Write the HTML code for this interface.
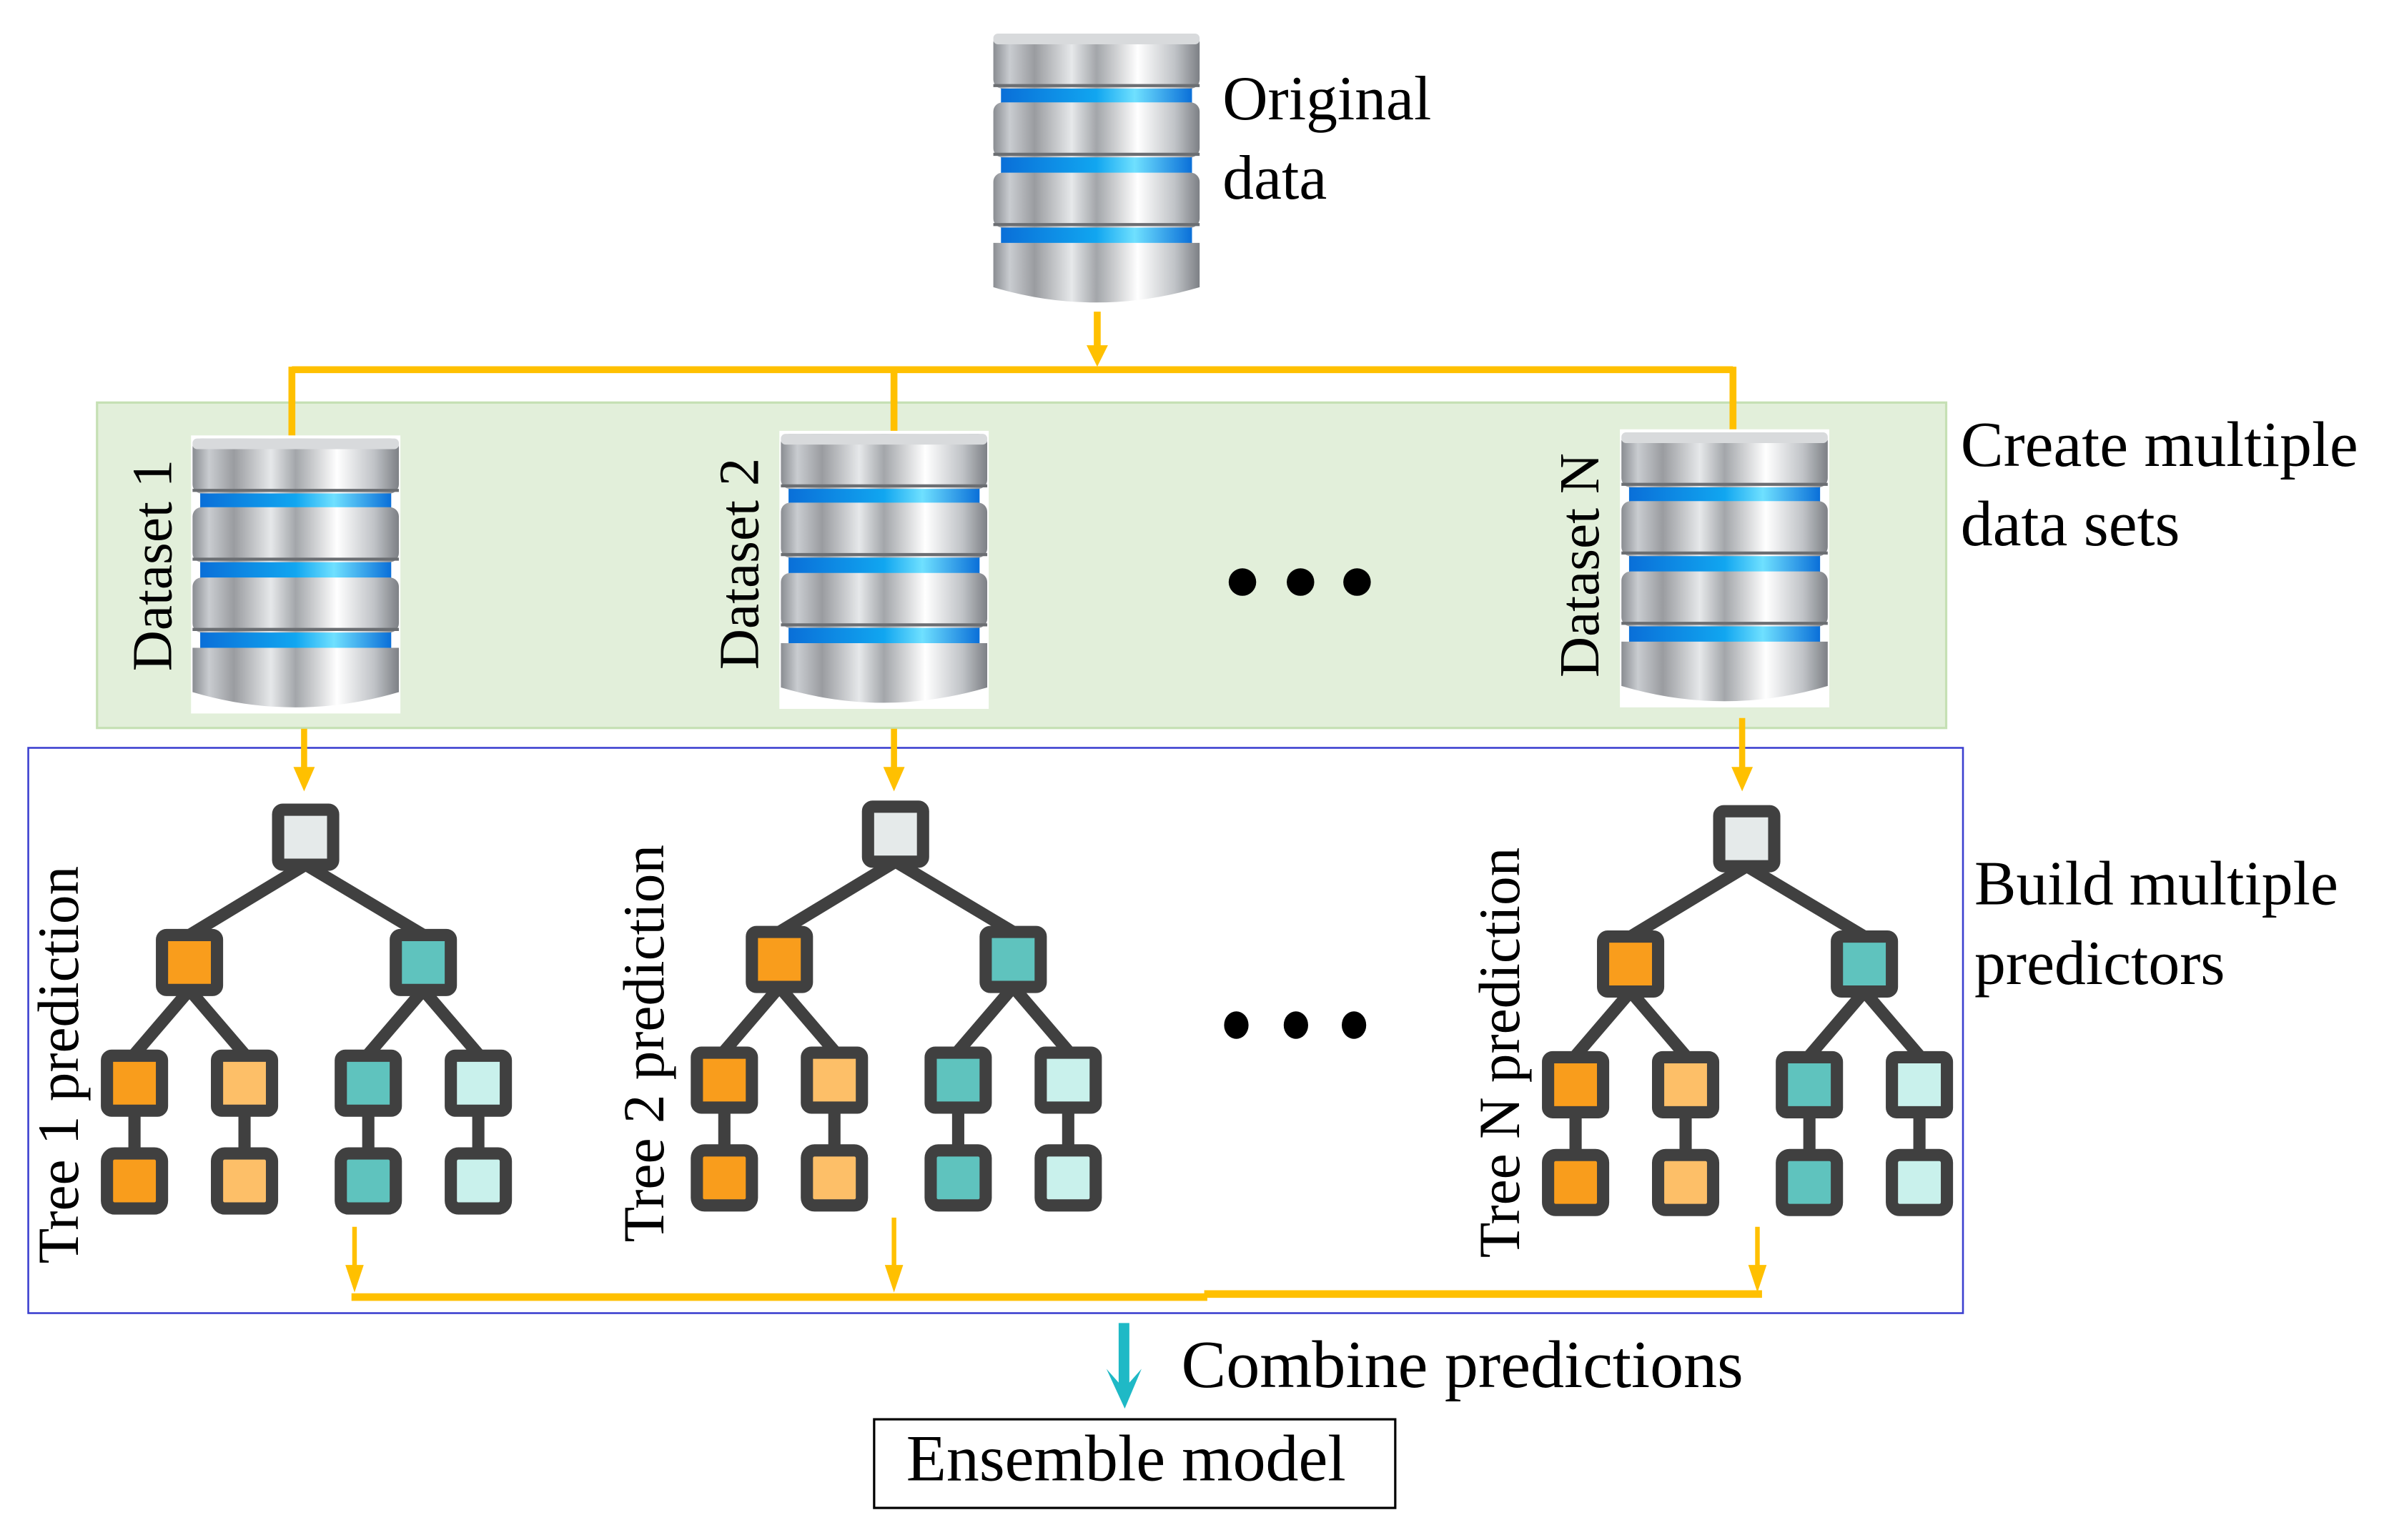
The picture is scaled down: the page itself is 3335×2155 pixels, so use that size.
<!DOCTYPE html>
<html><head><meta charset="utf-8">
<style>
html,body{margin:0;padding:0;background:#fff;}
svg{display:block;}
text{font-family:"Liberation Serif",serif;fill:#000;}
</style></head>
<body>
<svg width="3335" height="2155" viewBox="0 0 1560 1008" preserveAspectRatio="none" xmlns="http://www.w3.org/2000/svg">
<defs>
<linearGradient id="silver" x1="0" x2="1" y1="0" y2="0">
<stop offset="0" stop-color="#8a8d92"/>
<stop offset="0.08" stop-color="#c9ccd0"/>
<stop offset="0.2" stop-color="#9a9ca0"/>
<stop offset="0.38" stop-color="#e6e8ea"/>
<stop offset="0.5" stop-color="#a3a6aa"/>
<stop offset="0.7" stop-color="#ffffff"/>
<stop offset="0.88" stop-color="#c0c3c7"/>
<stop offset="1" stop-color="#7d8085"/>
</linearGradient>
<linearGradient id="blue" x1="0" x2="1">
<stop offset="0" stop-color="#0a6fd8"/>
<stop offset="0.5" stop-color="#11a6f0"/>
<stop offset="0.7" stop-color="#6fe0ff"/>
<stop offset="1" stop-color="#0a6fd8"/>
</linearGradient>
<g id="db">
<rect x="0" y="0" width="137" height="182" fill="#fff"/>
<rect x="6" y="34" width="125" height="16" fill="url(#blue)"/>
<rect x="6" y="80" width="125" height="16" fill="url(#blue)"/>
<rect x="6" y="126" width="125" height="16" fill="url(#blue)"/>
<rect x="1" y="2" width="135" height="36" rx="6" fill="url(#silver)"/>
<rect x="1" y="2" width="135" height="7" rx="3" fill="#d8dadc"/>
<rect x="1" y="47" width="135" height="36" rx="6" fill="url(#silver)"/>
<rect x="1" y="93" width="135" height="36" rx="6" fill="url(#silver)"/>
<path d="M1 139 H136 V168 Q68 188 1 168 Z" fill="url(#silver)"/>
<path d="M1 36 H136 M1 81 H136 M1 127 H136" stroke="#6b6e72" stroke-width="2"/>
</g>
<g id="tree" stroke="#404040" stroke-width="8" stroke-linejoin="round">
<path d="M200 566 L124 612 M200 566 L277 612 M124 648 L88 690 M124 648 L160 690 M277 648 L241 690 M277 648 L313 690 M88 725 V755 M160 725 V755 M241 725 V755 M313 725 V755" fill="none"/>
<rect x="182" y="530" width="36" height="36" rx="3" fill="#e5eaea"/>
<rect x="106" y="612" width="36" height="36" rx="3" fill="#f99d1c"/>
<rect x="259" y="612" width="36" height="36" rx="3" fill="#5fc3be"/>
<rect x="70" y="691" width="36" height="36" rx="3" fill="#f99d1c"/>
<rect x="142" y="691" width="36" height="36" rx="3" fill="#fdbf68"/>
<rect x="223" y="691" width="36" height="36" rx="3" fill="#5fc3be"/>
<rect x="295" y="691" width="36" height="36" rx="3" fill="#c9f1ec"/>
<rect x="70" y="755" width="36" height="36" rx="5" fill="#f99d1c"/>
<rect x="142" y="755" width="36" height="36" rx="5" fill="#fdbf68"/>
<rect x="223" y="755" width="36" height="36" rx="5" fill="#5fc3be"/>
<rect x="295" y="755" width="36" height="36" rx="5" fill="#c9f1ec"/>
</g>
</defs>

<use href="#db" x="649" y="20"/>
<text x="800" y="78" font-size="41">Original</text>
<text x="800" y="130" font-size="41">data</text>

<g stroke="#ffc000" stroke-width="4.5" fill="none">
<path d="M718 204 V232"/>
<path d="M191 242 H1134 M191 240 V290 M585 240 V290 M1134 240 V290"/>
</g>
<path d="M711 226 L725 226 L718 240 Z" fill="#ffc000"/>

<rect x="63.5" y="263.5" width="1210" height="213" fill="#e2efda" stroke="#c5e0b4" stroke-width="1.5"/>
<g stroke="#ffc000" stroke-width="4.5"><path d="M191 262 V290 M585 262 V290 M1134 262 V290"/></g>
<use href="#db" x="125" y="285"/>
<use href="#db" x="510" y="282"/>
<use href="#db" x="1060" y="281"/>
<text transform="translate(112,370) rotate(-90)" font-size="37" text-anchor="middle">Dataset 1</text>
<text transform="translate(496,369) rotate(-90)" font-size="37" text-anchor="middle">Dataset 2</text>
<text transform="translate(1046,370) rotate(-90)" font-size="37" text-anchor="middle">Dataset N</text>
<circle cx="813" cy="381" r="9" fill="#000"/>
<circle cx="851" cy="381" r="9" fill="#000"/>
<circle cx="888" cy="381" r="9" fill="#000"/>
<text x="1283" y="305" font-size="42">Create multiple</text>
<text x="1283" y="357" font-size="42">data sets</text>

<rect x="18.5" y="489.5" width="1266" height="370" fill="none" stroke="#3b3fcf" stroke-width="1.2"/>
<g stroke="#ffc000" stroke-width="4"><path d="M199 477 V505 M585 477 V505 M1140 470 V505"/></g>
<path d="M192 502 L206 502 L199 518 Z M578 502 L592 502 L585 518 Z M1133 502 L1147 502 L1140 518 Z" fill="#ffc000"/>

<use href="#tree"/>
<use href="#tree" x="386" y="-2"/>
<use href="#tree" x="943" y="1"/>
<text transform="translate(51,697) rotate(-90)" font-size="38" text-anchor="middle">Tree 1 prediction</text>
<text transform="translate(434,683) rotate(-90)" font-size="38" text-anchor="middle">Tree 2 prediction</text>
<text transform="translate(994,689) rotate(-90)" font-size="38" text-anchor="middle">Tree N prediction</text>
<ellipse cx="809" cy="671" rx="8" ry="9" fill="#000"/>
<ellipse cx="848" cy="671" rx="8" ry="9" fill="#000"/>
<ellipse cx="886" cy="671" rx="8" ry="9" fill="#000"/>
<text x="1292" y="592" font-size="41">Build multiple</text>
<text x="1292" y="644" font-size="41">predictors</text>

<g stroke="#ffc000" stroke-width="3"><path d="M232 803 V835 M585 797 V835 M1150 803 V835"/></g>
<path d="M226 828 L238 828 L232 846 Z M579 828 L591 828 L585 846 Z M1144 828 L1156 828 L1150 846 Z" fill="#ffc000"/>
<path d="M230 849 H790 M788 847 H1153" stroke="#ffc000" stroke-width="5"/>

<path d="M732 866 H739 V905 L747 896 L736 922 L724 896 L732 905 Z" fill="#1fb9c6"/>
<text x="773" y="908" font-size="44">Combine predictions</text>
<rect x="572" y="929" width="341" height="58" fill="#fff" stroke="#000" stroke-width="1.5"/>
<text x="593" y="969" font-size="43">Ensemble model</text>
</svg>
</body></html>
